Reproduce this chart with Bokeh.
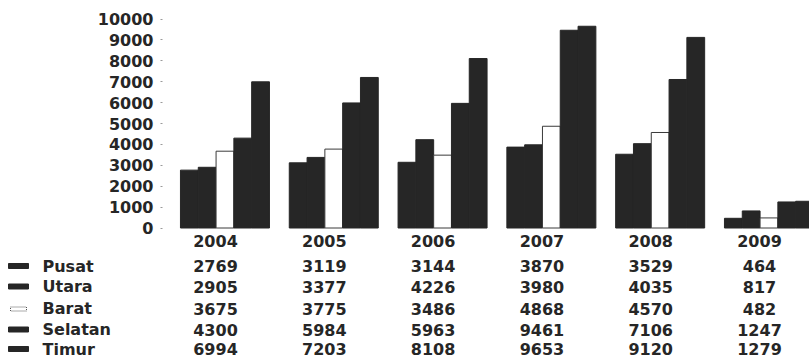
from bokeh.plotting import figure
from bokeh.models import Range1d, FixedTicker, ColumnDataSource
from bokeh.embed import file_html
from bokeh.resources import INLINE
from bokeh.core.properties import value

# Data
years = ["2004", "2005", "2006", "2007", "2008", "2009"]
series = ["Pusat", "Utara", "Barat", "Selatan", "Timur"]
pusat = [2769, 3119, 3144, 3870, 3529, 464]
utara = [2905, 3377, 4226, 3980, 4035, 817]
barat = [3675, 3775, 3486, 4868, 4570, 482]
selatan = [4300, 5984, 5963, 9461, 7106, 1247]
timur = [6994, 7203, 8108, 9653, 9120, 1279]
y_ticks = [0, 1000, 2000, 3000, 4000, 5000, 6000, 7000, 8000, 9000, 10000]

values = [pusat, utara, barat, selatan, timur]

# Layout (pixels)
W, H = 809, 358
AXIS_PX = 162          # where the value axis stands
BASE = 227.5           # pixel row of y = 0
KY = 0.0209            # pixels per unit on y
COL = 108.8            # pixels per year column
FIRST_COL = 215        # pixel centre of first column
BAR_W = 0.1636         # bar width in column units
GROUP_SHIFT = 0.087    # bar cluster sits a little right of the column label

FONT = "DejaVu Sans"
FS = "16px"
INK = "#262626"
TXT = "#262626"

x_start = -FIRST_COL / COL
x_end = x_start + W / COL


def px_to_x(px):
    return x_start + px / COL


p = figure(width=W, height=H, output_backend="svg", toolbar_location=None,
           x_range=Range1d(x_start, x_end),
           y_range=Range1d(-(H - BASE) / KY, BASE / KY),
           x_axis_type=None, min_border_left=0, min_border_right=0,
           min_border_top=0, min_border_bottom=0)
p.outline_line_color = None
p.grid.visible = False
p.background_fill_color = "white"
p.border_fill_color = "white"

# value axis pinned inside the canvas, left of the bars
ax = p.yaxis[0]
ax.fixed_location = px_to_x(AXIS_PX)
ax.ticker = FixedTicker(ticks=y_ticks)
ax.axis_line_color = None
ax.major_tick_in = 0
ax.major_tick_out = 2
ax.major_tick_line_color = "#9a9a9a"
ax.minor_tick_line_color = None
ax.major_label_standoff = 7
ax.major_label_text_font = FONT
ax.major_label_text_font_style = "bold"
ax.major_label_text_font_size = FS
ax.major_label_text_color = TXT

# clustered bars
for k, (name, vals) in enumerate(zip(series, values)):
    xs = [i + GROUP_SHIFT + (k - 2) * BAR_W for i in range(len(years))]
    src = ColumnDataSource(dict(x=xs, top=vals))
    if name == "Barat":
        p.vbar(x="x", top="top", bottom=0, width=BAR_W, source=src,
               fill_color="white", line_color="#3a3a3a", line_width=1)
    else:
        p.vbar(x="x", top="top", bottom=0, width=BAR_W, source=src,
               fill_color=INK, line_color=INK, line_width=1)

cols = list(range(len(years)))

# year header row
p.text(x=cols, y=[0] * len(years), text=years,
       y_offset=240 - BASE, text_align="center", text_baseline="middle",
       text_font=value(FONT), text_font_style="bold", text_font_size=FS,
       text_color=TXT)

# data table rows
row_px = [265.5, 286, 308, 329, 348.5]
for name, vals, py in zip(series, values, row_px):
    off = py - BASE
    p.text(x=cols, y=[0] * len(vals), text=[str(v) for v in vals],
           y_offset=off, text_align="center", text_baseline="middle",
           text_font=value(FONT), text_font_style="bold", text_font_size=FS,
           text_color=TXT)
    p.text(x=[px_to_x(42)], y=[0], text=[name], y_offset=off,
           text_align="left", text_baseline="middle", text_font=value(FONT),
           text_font_style="bold", text_font_size=FS, text_color=TXT)
    sy = -off / KY
    if name == "Barat":
        p.rect(x=[px_to_x(18)], y=[sy - 0.5 / KY], width=16, height=4,
               width_units="screen", height_units="screen",
               fill_color="white", line_color="#555555", line_width=1,
               line_dash="1 1")
    else:
        p.rect(x=[px_to_x(18)], y=[sy], width=20, height=5,
               width_units="screen", height_units="screen",
               fill_color=INK, line_color=INK)

open("out.html", "w").write(file_html(p, INLINE))
